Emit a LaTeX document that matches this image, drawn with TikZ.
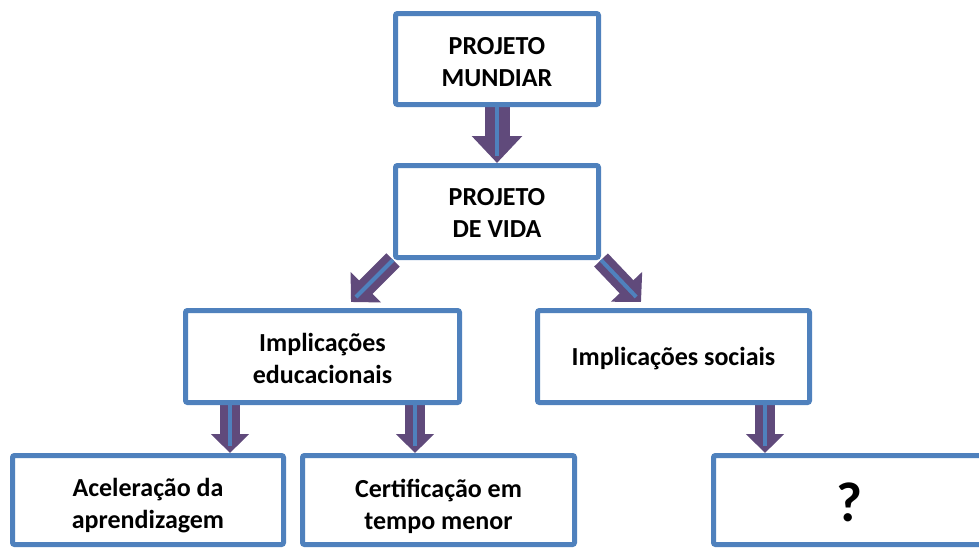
\documentclass[tikz,border=0pt]{standalone}
\usepackage{fontspec}
\setmainfont{Carlito}
\usetikzlibrary{arrows.meta,backgrounds}
\definecolor{boxblue}{RGB}{79,129,189}
\definecolor{arrpurple}{RGB}{96,74,123}
\begin{document}
\begin{tikzpicture}[x=1pt,y=-1pt,
  box/.style={draw=boxblue, line width=5pt, fill=white, rounded corners=2pt, inner sep=0pt},
  txt/.style={align=center, font=\fontsize{26}{32}\selectfont\bfseries, inner sep=0pt},
  bigarrow/.style={draw=arrpurple, line width=25pt, -{Triangle[length=27pt,width=49pt]}},
  diagarrow/.style={draw=arrpurple, line width=19pt, -{Triangle[length=21pt,width=42pt]}},
  smallarrow/.style={draw=arrpurple, line width=20pt, -{Triangle[length=19pt,width=37pt]}},
  stripe/.style={draw=boxblue, line width=4.5pt, shorten >=7pt}
]
\useasboundingbox (0,0) rectangle (979,549);
\node[box, minimum width=203pt, minimum height=91pt,
  label={[txt, yshift=-3pt]center:{PROJETO\\MUNDIAR}}] (b1) at (497,59) {};
\node[box, minimum width=203pt, minimum height=92pt,
  label={[txt, yshift=-1.5pt]center:{PROJETO\\DE VIDA}}] (b2) at (497,211.5) {};
\node[box, minimum width=274pt, minimum height=92pt,
  label={[txt, yshift=-2pt]center:{Implicações\\educacionais}}] (b3) at (322.5,356.5) {};
\node[box, minimum width=272pt, minimum height=92pt,
  label={[txt, yshift=-2pt]center:{Implicações sociais}}] (b4) at (673.5,356.5) {};
\node[box, minimum width=271pt, minimum height=89pt,
  label={[txt, yshift=-6pt]center:{Aceleração da\\aprendizagem}}] (b5) at (148,500) {};
\node[box, minimum width=272pt, minimum height=89pt,
  label={[txt, yshift=-6pt]center:{Certificação em\\tempo menor}}] (b6) at (438.5,500) {};
\node[box, minimum width=272pt, minimum height=89pt,
  label={[txt, yshift=-2pt, font=\fontsize{56}{60}\selectfont\bfseries]center:{?}}] (b7) at (849.5,500) {};
\coordinate (t1) at (351,302);
\coordinate (t2) at (641,302);
\coordinate (s1) at ([xshift=-92.5pt]b3.south);
\coordinate (s2) at ([xshift=92.5pt]b3.south);
\coordinate (s3) at ([xshift=91.5pt]b4.south);
\begin{scope}[on background layer]
  \draw[bigarrow] (b1.south) -- (b2.north);
  \draw[stripe] (b1.south) -- (b2.north);
  \draw[diagarrow] (b2.south west) -- (t1);
  \draw[stripe, line width=4pt] (b2.south west) -- (t1);
  \draw[diagarrow] (b2.south east) -- (t2);
  \draw[stripe, line width=4pt] (b2.south east) -- (t2);
  \draw[smallarrow] (s1) -- (s1 |- b5.north);
  \draw[stripe, line width=4pt] (s1) -- (s1 |- b5.north);
  \draw[smallarrow] (s2) -- (s2 |- b6.north);
  \draw[stripe, line width=4pt] (s2) -- (s2 |- b6.north);
  \draw[smallarrow] (s3) -- (s3 |- b7.north);
  \draw[stripe, line width=4pt] (s3) -- (s3 |- b7.north);
\end{scope}
\end{tikzpicture}
\end{document}
